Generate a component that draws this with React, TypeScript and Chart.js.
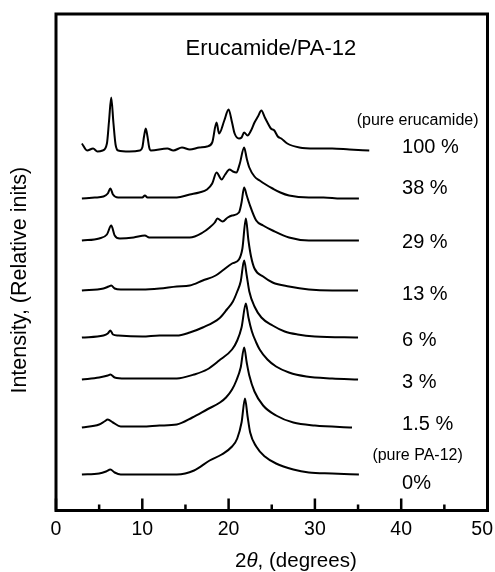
import React, { useEffect, useRef } from "react";
import { Chart, registerables } from "chart.js";

Chart.register(...registerables);

const FONT = "'Liberation Sans', Arial, Helvetica, sans-serif";

// ---- text ----
const chartTitle = "Erucamide/PA-12";
const xTitleParts = ["2", "θ", ", (degrees)"];
const yTitle = "Intensity, (Relative inits)";
const sampleLabels = ["100 %", "38 %", "29 %", "13 %", "6 %", "3 %", "1.5 %", "0%"];
const noteTexts = ["(pure erucamide)", "(pure PA-12)"];

// ---- axis ----
const xMin = 0;
const xMax = 50;
const majorTicks = [0, 10, 20, 30, 40, 50];
const tickLabels = ["0", "10", "20", "30", "40", "50"];
const minorTicks = [5, 15, 25, 35, 45];

// ---- stacking offsets (relative intensity units) ----
const baselines = [360, 312, 270, 220, 173, 131, 83, 36];
const labelLevels = [357.5, 316.5, 262.5, 210.5, 164.5, 122.5, 80.5, 21.5];
const noteLevels = [385.5, 50.5];

// ---- diffraction patterns: [2θ (deg), intensity above baseline] ----
const pattern100: [number, number][] = [
  [3.0, 7], [3.6, 0], [4.3, 2], [4.8, -1], [5.4, 0], [5.9, 7], [6.15, 30], [6.4, 53],
  [6.65, 28], [6.9, 6], [7.2, 0], [8.5, -1], [9.7, 0], [10.0, 3], [10.2, 14], [10.4, 22],
  [10.6, 14], [10.8, 3], [11.0, 0], [12.9, 2], [13.6, 0], [14.6, 3], [15.5, 1], [16.6, 3],
  [17.5, 4], [18.1, 8], [18.6, 28], [18.9, 17], [19.5, 30], [20.0, 41], [20.4, 28], [20.7, 17],
  [21.2, 12], [21.5, 13], [21.8, 18], [22.2, 15], [22.6, 20], [23.0, 28], [23.4, 34], [23.8, 40],
  [24.2, 33], [24.5, 28], [24.9, 22], [25.3, 20], [25.7, 14], [26.1, 12], [26.8, 7], [28.2, 3],
  [30.0, 2], [32.0, 2], [34.0, 1], [36.3, 0],
];
const pattern38: [number, number][] = [
  [3.0, 0], [4.5, 1], [5.5, 2], [6.0, 5], [6.3, 10], [6.6, 4], [7.2, 1], [8.5, 1], [10.0, 1],
  [10.3, 3], [10.6, 1], [12.0, 1], [14.0, 1], [15.5, 4], [16.6, 6], [17.5, 9], [18.1, 15],
  [18.6, 26], [19.2, 19], [19.6, 24], [20.1, 29], [20.5, 27], [20.9, 26], [21.3, 35], [21.8, 51],
  [22.1, 40], [22.4, 31], [23.0, 22], [23.6, 18], [24.3, 14], [25.1, 10], [26.0, 6], [27.0, 3],
  [29.3, 1], [31.0, 1], [33.0, 0], [35.1, 0],
];
const pattern29: [number, number][] = [
  [3.0, 0], [5.0, 2], [5.9, 6], [6.4, 15], [6.8, 5], [7.4, 2], [9.0, 3], [10.3, 5], [10.8, 3],
  [12.0, 3], [14.0, 3], [15.5, 3], [17.0, 8], [17.8, 13], [18.4, 18], [18.7, 22], [19.3, 19],
  [19.9, 23], [20.4, 25], [21.2, 28], [21.5, 38], [21.8, 53], [22.1, 45], [22.4, 37], [23.2, 20],
  [24.0, 15], [25.1, 10], [27.0, 3], [29.3, 0], [32.0, 0], [35.1, 0],
];
const pattern13: [number, number][] = [
  [3.0, 0], [5.5, 2], [6.1, 4], [6.4, 5], [6.8, 2], [7.5, 1], [10.0, 1], [12.0, 2], [14.0, 4],
  [15.5, 5], [17.0, 10], [18.5, 15], [19.3, 20], [20.4, 27], [21.2, 31], [21.6, 42], [22.0, 72],
  [22.3, 50], [22.6, 34], [23.0, 22], [24.0, 14], [25.1, 8], [27.0, 4], [29.3, 1], [32.0, 0],
  [35.0, 0],
];
const pattern6: [number, number][] = [
  [3.0, 0], [5.5, 2], [6.0, 4], [6.3, 7], [6.6, 3], [7.2, 2], [10.0, 1], [12.0, 2], [14.0, 2],
  [15.5, 5], [17.0, 10], [18.9, 19], [19.8, 28], [20.5, 36], [21.0, 46], [21.4, 56], [21.8, 77],
  [22.1, 62], [22.4, 46], [23.0, 31], [23.8, 20], [25.1, 12], [26.5, 6], [28.0, 3], [30.0, 1],
  [35.0, 0],
];
const pattern3: [number, number][] = [
  [3.0, 0], [5.0, 2], [6.0, 4], [6.3, 5], [6.8, 2], [8.0, 1], [10.0, 1], [14.0, 1], [16.0, 5],
  [17.5, 10], [18.9, 19], [20.4, 30], [21.0, 39], [21.5, 52], [22.0, 76], [22.3, 62], [22.7, 48],
  [23.2, 37], [23.6, 30], [24.5, 20], [25.5, 13], [27.0, 7], [29.0, 3], [32.0, 1], [35.0, 0],
];
const pattern1p5: [number, number][] = [
  [3.0, 0], [5.0, 3], [5.6, 6], [6.0, 8], [6.6, 5], [7.5, 1], [10.0, 1], [12.0, 2], [14.0, 3],
  [15.8, 10], [17.5, 18], [19.0, 25], [19.7, 30], [20.4, 38], [20.9, 47], [21.4, 60], [21.8, 80],
  [22.1, 65], [22.4, 52], [23.0, 36], [24.0, 22], [25.5, 12], [27.5, 5], [30.0, 2], [34.3, 0],
];
const pattern0: [number, number][] = [
  [3.0, 0], [5.0, 1], [5.8, 3], [6.3, 5], [6.8, 2], [7.5, 0], [10.0, 0], [14.0, 0], [16.0, 4],
  [17.8, 14], [19.2, 20], [20.4, 28], [21.0, 36], [21.5, 52], [21.9, 76], [22.2, 58], [22.5, 42],
  [23.2, 28], [24.2, 18], [25.5, 11], [27.5, 5], [29.3, 2], [32.0, 1], [35.1, 0],
];

const patterns = [pattern100, pattern38, pattern29, pattern13, pattern6, pattern3, pattern1p5, pattern0];

const decorPlugin = {
  id: "xrdDecor",
  afterDraw(chart: any) {
    const { ctx, chartArea: a, scales, width } = chart;
    const xs = scales.x;
    const ys = scales.y;
    ctx.save();
    ctx.strokeStyle = "#000";
    ctx.fillStyle = "#000";

    // frame
    ctx.lineWidth = 3;
    ctx.strokeRect(a.left, a.top, a.right - a.left, a.bottom - a.top);

    // inward ticks
    ctx.lineWidth = 2.5;
    ctx.beginPath();
    majorTicks.forEach((v) => {
      const px = xs.getPixelForValue(v);
      ctx.moveTo(px, a.bottom);
      ctx.lineTo(px, a.bottom - 12);
    });
    minorTicks.forEach((v) => {
      const px = xs.getPixelForValue(v);
      ctx.moveTo(px, a.bottom);
      ctx.lineTo(px, a.bottom - 6);
    });
    ctx.stroke();

    // tick labels (kept inside the canvas)
    ctx.textBaseline = "alphabetic";
    ctx.textAlign = "left";
    ctx.font = `19.5px ${FONT}`;
    majorTicks.forEach((v, i) => {
      const t = tickLabels[i];
      const w = ctx.measureText(t).width;
      let left = xs.getPixelForValue(v) - w / 2;
      if (left + w > width - 2) left = width - 2 - w;
      ctx.fillText(t, left, a.bottom + 24.5);
    });

    // title inside plot
    ctx.textAlign = "center";
    ctx.font = `22px ${FONT}`;
    ctx.fillText(chartTitle, xs.getPixelForValue(24.9), ys.getPixelForValue(455.5));

    // notes
    ctx.font = `16px ${FONT}`;
    noteTexts.forEach((t, i) => {
      ctx.fillText(t, xs.getPixelForValue(41.9), ys.getPixelForValue(noteLevels[i]));
    });

    // sample labels
    ctx.textAlign = "left";
    ctx.font = `20px ${FONT}`;
    sampleLabels.forEach((t, i) => {
      ctx.fillText(t, xs.getPixelForValue(40.1), ys.getPixelForValue(labelLevels[i]));
    });

    // x-axis title with italic theta
    const xtFonts = [`20.5px ${FONT}`, `italic 20.5px ${FONT}`, `20.5px ${FONT}`];
    let total = 0;
    const widths = xTitleParts.map((p, i) => {
      ctx.font = xtFonts[i];
      const w = ctx.measureText(p).width;
      total += w;
      return w;
    });
    let cx = xs.getPixelForValue(27.8) - total / 2;
    const by = a.bottom + 56.5;
    xTitleParts.forEach((p, i) => {
      ctx.font = xtFonts[i];
      ctx.fillText(p, cx, by);
      cx += widths[i];
    });

    // y-axis title
    ctx.save();
    ctx.translate(25.5, (a.top + a.bottom) / 2 + 18);
    ctx.rotate(-Math.PI / 2);
    ctx.textAlign = "center";
    ctx.font = `21.5px ${FONT}`;
    ctx.fillText(yTitle, 0, 0);
    ctx.restore();

    ctx.restore();
  },
};

export default function App() {
  const canvasRef = useRef<HTMLCanvasElement | null>(null);

  useEffect(() => {
    const canvas = canvasRef.current;
    if (!canvas) return;
    const datasets = patterns.map((pat, i) => ({
      label: sampleLabels[i],
      data: pat.map(([x, h]) => ({ x, y: baselines[i] + h })),
      showLine: true,
      borderColor: "#000",
      backgroundColor: "#000",
      borderWidth: 2,
      pointRadius: 0,
      cubicInterpolationMode: "monotone" as const,
      fill: false,
    }));

    const chart = new Chart(canvas, {
      type: "scatter",
      data: { datasets },
      options: {
        animation: false,
        responsive: false,
        devicePixelRatio: 1,
        layout: { padding: { top: 14, left: 56, right: 7.5, bottom: 0 } },
        plugins: {
          legend: { display: false },
          tooltip: { enabled: false },
          title: { display: false },
        },
        scales: {
          x: {
            type: "linear",
            min: xMin,
            max: xMax,
            grid: { display: false, drawTicks: false },
            border: { display: false },
            ticks: { display: false, stepSize: 10 },
            afterFit: (s: any) => {
              s.height = 61.5;
              s.paddingLeft = 0;
              s.paddingRight = 0;
            },
          },
          y: {
            type: "linear",
            min: 0,
            max: 496.5,
            display: false,
          },
        },
      },
      plugins: [decorPlugin],
    });
    return () => chart.destroy();
  }, []);

  return (
    <div style={{ position: "absolute", left: 0, top: 0, width: 495, height: 572, background: "#fff" }}>
      <canvas ref={canvasRef} width={495} height={572} style={{ display: "block" }} />
    </div>
  );
}
